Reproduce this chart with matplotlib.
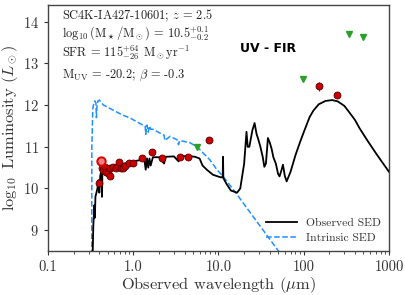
import numpy as np
import matplotlib
matplotlib.use("Agg")
import matplotlib.pyplot as plt

plt.rcParams["font.family"] = "serif"
plt.rcParams["font.serif"] = ["cmr10"]
plt.rcParams["mathtext.fontset"] = "cm"
plt.rcParams["axes.unicode_minus"] = False
plt.rcParams["axes.formatter.use_mathtext"] = True

# observed (attenuated) SED, wavelength in micron, log10 L
obs_wl = [0.335, 0.34, 0.35, 0.355, 0.36, 0.38, 0.39, 0.40, 0.41, 0.425, 0.43, 0.435, 0.45,
          0.5, 0.6, 0.7, 0.8, 1.0, 1.2, 1.35, 1.4, 1.45, 1.5, 1.55, 1.6, 1.7, 2.0, 2.3, 2.4,
          3.0, 3.4, 3.5, 4.5, 5.3, 6.0, 6.5, 7.3, 8.6, 10.5, 11.2, 11.3, 11.4, 12.5, 14.0,
          16.5, 18.0, 20.0, 21.3, 22.0, 23.0, 25.0, 26.5, 28.0, 29.0, 31.0, 33.0, 34.5, 36.0,
          38.0, 40.0, 42.0, 44.0, 47.0, 50.0, 52.0, 55.0, 57.0, 60.0, 63.0, 70.0, 80.0, 90.0,
          100.0, 117.0, 130.0, 150.0, 180.0, 215.0, 250.0, 300.0, 350.0, 400.0, 450.0, 550.0,
          700.0, 800.0, 1000.0]
obs_L = [8.5, 9.1, 9.6, 9.3, 9.8, 10.0, 10.2, 9.9, 10.3, 10.45, 9.8, 10.45, 10.5,
         10.52, 10.55, 10.58, 10.6, 10.65, 10.68, 10.7, 10.45, 10.72, 10.5, 10.72, 10.55, 10.75,
         10.75, 10.6, 10.76, 10.77, 10.65, 10.77, 10.78, 10.76, 10.72, 10.55, 10.45, 10.33,
         10.27, 10.27, 10.76, 10.25, 10.1, 9.95, 9.9, 10.0, 10.6, 11.36, 11.0, 11.0, 11.4,
         11.57, 11.3, 11.21, 11.0, 10.76, 10.52, 10.6, 11.21, 11.1, 10.95, 10.75, 10.6, 10.35,
         10.29, 10.45, 10.57, 10.3, 10.17, 10.4, 10.8, 11.1, 11.35, 11.71, 11.87, 12.02, 12.1,
         12.12, 12.09, 11.98, 11.8, 11.64, 11.45, 11.17, 10.85, 10.68, 10.4]

# intrinsic (unattenuated) stellar SED
int_wl = [0.326, 0.327, 0.335, 0.345, 0.355, 0.365, 0.37, 0.375, 0.385, 0.40, 0.42, 0.45,
          0.58, 0.75, 0.92, 1.1, 1.3, 1.38, 1.4, 1.45, 1.5, 1.55, 1.6, 1.7, 2.05, 2.3, 2.35,
          2.7, 3.26, 3.4, 3.5, 4.6, 5.6, 7.9, 9.6, 11.3, 15.5, 25.0, 48.5, 60.0]
int_L = [8.4, 11.0, 11.9, 12.05, 12.1, 12.05, 11.7, 11.95, 12.1, 12.12, 12.06, 12.0,
         11.88, 11.76, 11.69, 11.6, 11.52, 11.5, 11.3, 11.52, 11.35, 11.5, 11.42, 11.42, 11.33,
         11.28, 11.15, 11.25, 11.17, 11.05, 11.15, 11.1, 11.0, 10.69, 10.45, 10.29, 9.93,
         9.35, 8.55, 8.3]

# photometry
det_wl = [0.396, 0.43, 0.445, 0.466, 0.48, 0.5, 0.53, 0.54, 0.58, 0.62, 0.66, 0.68, 0.72,
          0.76, 0.8, 0.88, 1.0, 1.27, 1.66, 2.17, 3.55, 4.38, 7.7, 151.0, 245.0]
det_L = [10.14, 10.5, 10.45, 10.52, 10.4, 10.36, 10.31, 10.5, 10.52, 10.5, 10.55, 10.64,
         10.48, 10.5, 10.55, 10.6, 10.62, 10.74, 10.88, 10.74, 10.76, 10.76, 11.17, 12.45, 12.24]
det_err = [0.03] * 23 + [0.1, 0.04]
ring_wl, ring_L = [0.42], [10.67]
lim_wl = [5.6, 98.0, 340.0, 495.0]
lim_L = [11.0, 12.62, 13.71, 13.64]

info = ["SC4K-IA427-10601; $z$ = 2.5",
        r"$\log_{10}$($\rm M_\star/M_\odot$) = 10.5$^{+0.1}_{-0.2}$",
        r"SFR = 115$^{+64}_{-26}$ M$_\odot$yr$^{-1}$",
        r"M$_{\rm UV}$ = -20.2; $\beta$ = -0.3"]

xticks = [0.1, 1.0, 10.0, 100.0, 1000.0]
xticklabels = ["0.1", "1.0", "10.0", "100", "1000"]

fig = plt.figure(figsize=(4.05, 2.95), dpi=100)
ax = fig.add_axes([0.1185, 0.149, 0.842, 0.834])

ax.plot(obs_wl, obs_L, color="black", lw=1.3, label="Observed SED", zorder=3)
ax.plot(int_wl, int_L, color="#1e90ff", lw=1.1, ls="--", label="Intrinsic SED", zorder=2)

ax.errorbar(det_wl, det_L, yerr=det_err, fmt="o", ms=5, mfc="#cc0000", mec="#550000",
            mew=0.6, ecolor="#cc0000", elinewidth=0.8, zorder=5)
ax.plot(ring_wl, ring_L, "o", ms=6, mfc="#f08080", mec="#dd0000", mew=1.4, zorder=6)
ax.plot(lim_wl, lim_L, "v", ms=5, color="#2ca02c", zorder=5)

ax.set_xscale("log")
ax.set_xlim(0.1, 1000)
ax.set_ylim(8.5, 14.4)
ax.set_xticks(xticks)
ax.set_xticklabels(xticklabels)
ax.set_yticks([9, 10, 11, 12, 13, 14])
ax.tick_params(axis="both", which="major", labelsize=10.5, length=3, width=0.8,
               colors="#333333", labelcolor="#333333")
ax.tick_params(axis="x", which="minor", length=1.8, width=0.6, colors="#333333")
for s in ax.spines.values():
    s.set_color("#444444")
    s.set_linewidth(1.0)

ax.set_xlabel(r"Observed wavelength ($\mu$m)", fontsize=11.8, color="#333333", labelpad=1)
ax.set_ylabel(r"$\log_{10}$ Luminosity ($L_\odot$)", fontsize=11.8, color="#333333", labelpad=2)

for t, yy in zip(info, [0.957, 0.885, 0.805, 0.715]):
    ax.text(0.041, yy, t, transform=ax.transAxes, fontsize=8.9, va="center", color="#222222")
ax.text(0.645, 0.825, "UV - FIR", transform=ax.transAxes, fontsize=9, weight="bold",
        family="DejaVu Sans", ha="center", va="center")

ax.legend(loc="lower right", frameon=False, fontsize=8.4, handlelength=2.6,
          borderaxespad=0.3, labelspacing=0.4, labelcolor="#333333")

fig.savefig("out.png", dpi=100)
